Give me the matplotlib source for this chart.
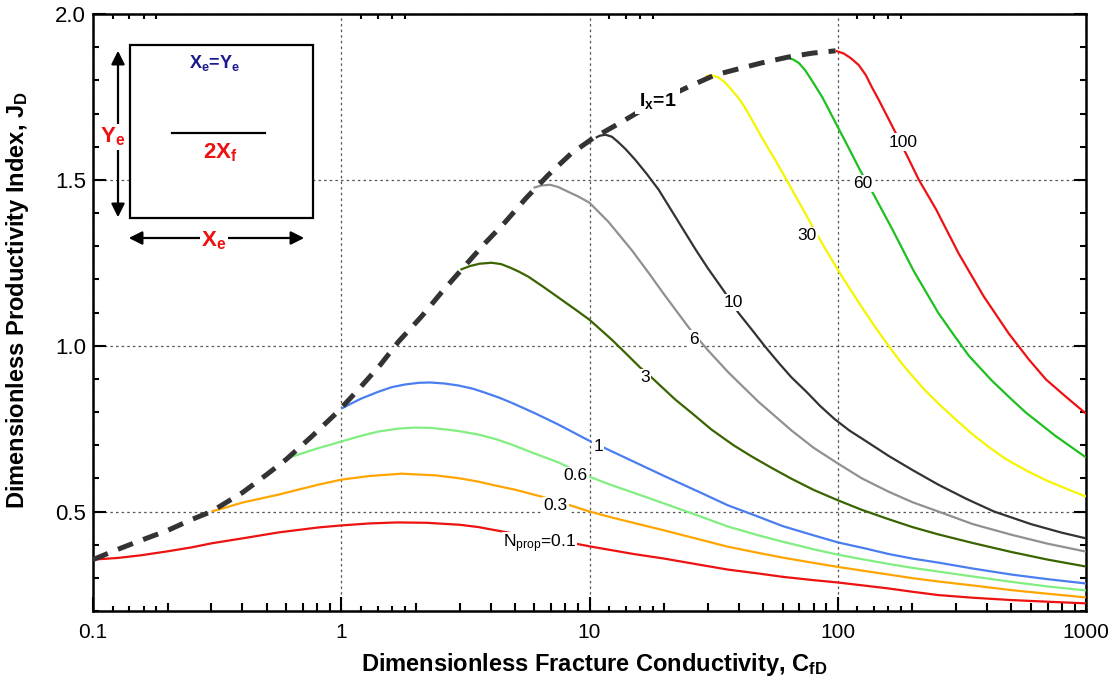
import matplotlib
matplotlib.use('Agg')
import matplotlib.pyplot as plt
from matplotlib.patches import FancyArrowPatch, Rectangle
from matplotlib.lines import Line2D

plt.rcParams['font.family'] = ['Liberation Sans', 'DejaVu Sans']
plt.rcParams['mathtext.fontset'] = 'custom'
plt.rcParams['mathtext.rm'] = 'Liberation Sans'
plt.rcParams['mathtext.bf'] = 'Liberation Sans:bold'
plt.rcParams['mathtext.sf'] = 'Liberation Sans:bold'
plt.rcParams['mathtext.it'] = 'Liberation Sans:italic'

# ---------------- data ----------------
xtick_values = [0.1, 1, 10, 100, 1000]
xtick_labels = ['0.1', '1', '10', '100', '1000']
ytick_values = [0.5, 1.0, 1.5, 2.0]
ytick_labels = ['0.5', '1.0', '1.5', '2.0']

envelope_cfd = [0.1, 0.126, 0.156, 0.2, 0.25, 0.3, 0.4, 0.5, 0.6, 0.76, 0.96, 1.17, 1.44,
                1.7, 2.1, 2.53, 3.05, 3.74, 4.58, 5.57, 6.83, 8.4, 10.4, 13.3, 18, 26,
                32, 40, 49, 63, 79, 98]
envelope_jd = [0.355, 0.386, 0.413, 0.443, 0.476, 0.500, 0.557, 0.611, 0.657, 0.726, 0.798,
               0.867, 0.943, 1.012, 1.087, 1.160, 1.229, 1.304, 1.373, 1.446, 1.515, 1.578,
               1.627, 1.672, 1.730, 1.786, 1.816, 1.835, 1.852, 1.870, 1.882, 1.889]

cfd_n0_1 = [0.1, 0.126, 0.156, 0.2, 0.25, 0.3, 0.4, 0.56, 0.81, 1.0, 1.3, 1.67, 2.2, 3.0,
            3.57, 4.58, 6.3, 8.8, 10, 15, 20, 28, 36, 48, 60, 80, 100, 130, 160, 200, 254,
            350, 500, 700, 1000]
jd_n0_1 = [0.355, 0.360, 0.368, 0.380, 0.392, 0.404, 0.419, 0.437, 0.452, 0.458, 0.464,
           0.467, 0.466, 0.460, 0.453, 0.438, 0.420, 0.403, 0.395, 0.372, 0.358, 0.339,
           0.325, 0.313, 0.303, 0.293, 0.286, 0.276, 0.268, 0.258, 0.248, 0.240, 0.233,
           0.228, 0.223]

cfd_n0_3 = [0.3, 0.35, 0.4, 0.48, 0.56, 0.68, 0.81, 1.0, 1.3, 1.75, 2.4, 3.0, 3.57, 4.2,
            5.0, 6.4, 8.1, 10, 12, 15, 20, 28, 36, 48, 60, 80, 100, 130, 160, 200, 254,
            350, 500, 700, 1000]
jd_n0_3 = [0.500, 0.514, 0.527, 0.540, 0.551, 0.567, 0.581, 0.596, 0.607, 0.614, 0.609,
           0.600, 0.590, 0.578, 0.566, 0.545, 0.522, 0.500, 0.484, 0.466, 0.443, 0.415,
           0.394, 0.375, 0.361, 0.345, 0.333, 0.320, 0.310, 0.299, 0.289, 0.277, 0.263,
           0.252, 0.241]

cfd_n0_6 = [0.62, 0.7, 0.8, 0.9, 1.0, 1.2, 1.41, 1.7, 1.99, 2.3, 2.6, 3.0, 3.57, 4.2,
            4.85, 6.0, 7.5, 8.7, 10, 12, 15, 20, 28, 36, 48, 60, 80, 100, 130, 160, 200,
            254, 350, 500, 700, 1000]
jd_n0_6 = [0.663, 0.676, 0.690, 0.701, 0.711, 0.728, 0.741, 0.750, 0.753, 0.752, 0.748,
           0.742, 0.732, 0.718, 0.702, 0.675, 0.648, 0.625, 0.605, 0.582, 0.557, 0.524,
           0.485, 0.455, 0.428, 0.409, 0.386, 0.370, 0.354, 0.342, 0.330, 0.319, 0.304,
           0.288, 0.274, 0.262]

cfd_n1 = [1.0, 1.1, 1.2, 1.41, 1.6, 1.81, 2.05, 2.28, 2.6, 2.96, 3.4, 3.8, 4.3, 4.85, 6.0,
          7.5, 10, 15, 20, 28, 36, 48, 60, 80, 100, 130, 160, 200, 254, 350, 500, 700, 1000]
jd_n1 = [0.810, 0.826, 0.840, 0.861, 0.875, 0.883, 0.888, 0.889, 0.886, 0.880, 0.870,
         0.858, 0.844, 0.828, 0.797, 0.762, 0.713, 0.651, 0.607, 0.557, 0.519, 0.484,
         0.456, 0.428, 0.407, 0.388, 0.372, 0.358, 0.346, 0.328, 0.310, 0.296, 0.283]

cfd_n3 = [3.02, 3.3, 3.6, 4.03, 4.4, 4.8, 5.2, 5.67, 6.5, 7.7, 9.0, 10, 12.3, 14, 16, 17.8,
          19, 22.2, 26, 31, 38, 45, 54, 65, 80, 100, 125, 160, 200, 254, 350, 500, 700,
          1000]
jd_n3 = [1.229, 1.240, 1.247, 1.250, 1.246, 1.235, 1.223, 1.208, 1.178, 1.139, 1.103,
         1.078, 1.018, 0.977, 0.934, 0.904, 0.884, 0.837, 0.795, 0.747, 0.700, 0.666,
         0.632, 0.599, 0.565, 0.534, 0.505, 0.477, 0.453, 0.431, 0.405, 0.378, 0.355,
         0.334]

cfd_n6 = [5.95, 6.4, 6.95, 7.5, 8.2, 9.0, 10, 11.93, 14.76, 17.29, 19.87, 22.84, 25.5,
          30.1, 36.3, 47.9, 65.2, 80, 100, 125, 160, 200, 254, 350, 500, 700, 1000]
jd_n6 = [1.476, 1.483, 1.485, 1.478, 1.464, 1.450, 1.431, 1.373, 1.289, 1.220, 1.157,
         1.096, 1.048, 0.985, 0.919, 0.831, 0.744, 0.692, 0.645, 0.600, 0.560, 0.528,
         0.500, 0.462, 0.430, 0.403, 0.379]

cfd_n10 = [10.6, 11.0, 11.6, 12.3, 13, 14, 15.3, 17, 19, 22.5, 26.8, 30, 34.7, 39.8, 45,
           51, 57.7, 65, 75, 85, 97, 111, 130, 160, 200, 254, 330, 426, 600, 800, 1000]
jd_n10 = [1.627, 1.633, 1.636, 1.630, 1.615, 1.592, 1.560, 1.518, 1.470, 1.381, 1.289,
          1.233, 1.166, 1.099, 1.049, 0.997, 0.949, 0.905, 0.860, 0.818, 0.779, 0.745,
          0.712, 0.668, 0.625, 0.581, 0.538, 0.500, 0.462, 0.436, 0.419]

cfd_n30 = [29.3, 31, 33, 35, 37, 40, 42.5, 46, 49, 52, 56, 62.3, 70, 78.6, 88, 98, 110,
           125, 140, 160, 180, 200, 225, 254, 300, 350, 410, 476, 580, 700, 850, 1000]
jd_n30 = [1.812, 1.815, 1.809, 1.795, 1.775, 1.745, 1.715, 1.670, 1.633, 1.600, 1.560,
          1.499, 1.431, 1.363, 1.299, 1.240, 1.180, 1.116, 1.061, 1.000, 0.949, 0.908,
          0.865, 0.826, 0.776, 0.732, 0.692, 0.658, 0.622, 0.592, 0.566, 0.545]

cfd_n60 = [59.3, 63, 66.5, 69.8, 74, 78.6, 86.5, 92, 98, 110, 123, 139.7, 165.6, 202, 254,
           293.5, 337, 417, 490, 573, 750, 1000]
jd_n60 = [1.870, 1.868, 1.862, 1.852, 1.830, 1.800, 1.750, 1.712, 1.672, 1.600, 1.529,
          1.455, 1.352, 1.226, 1.099, 1.032, 0.970, 0.895, 0.845, 0.798, 0.729, 0.663]

cfd_n100 = [98.2, 105.7, 112.8, 121.5, 129.7, 137.1, 146.3, 160.6, 176.1, 193.3, 212.2,
            248.5, 307.4, 387.7, 489.2, 589, 690, 830, 1000]
jd_n100 = [1.889, 1.881, 1.867, 1.846, 1.816, 1.780, 1.741, 1.682, 1.623, 1.562, 1.500,
           1.412, 1.277, 1.148, 1.036, 0.958, 0.898, 0.846, 0.795]

curve_labels = ['N$_\\mathrm{prop}$=0.1', '0.3', '0.6', '1', '3', '6', '10', '30', '60', '100']

# ---------------- figure ----------------
W, H = 1112, 688
fig = plt.figure(figsize=(W / 100, H / 100), dpi=100)
ax = fig.add_axes([93 / W, 1 - 611 / H, (1086 - 93) / W, (611 - 14) / H])


def P(px, py):
    return (px / W, 1 - py / H)


curves = [
    (cfd_n0_1, jd_n0_1, '#ee1111', (6.3, 0.402)),
    (cfd_n0_3, jd_n0_3, '#ffa500', (7.3, 0.518)),
    (cfd_n0_6, jd_n0_6, '#80ee80', (8.8, 0.608)),
    (cfd_n1, jd_n1, '#4a7ef0', (10.84, 0.696)),
    (cfd_n3, jd_n3, '#3a6400', (16.8, 0.904)),
    (cfd_n6, jd_n6, '#909090', (26.4, 1.020)),
    (cfd_n10, jd_n10, '#333333', (38.0, 1.130)),
    (cfd_n30, jd_n30, '#f5f500', (75.5, 1.331)),
    (cfd_n60, jd_n60, '#1ec01e', (126, 1.490)),
    (cfd_n100, jd_n100, '#ee1111', (183, 1.614)),
]

for (cx, cy, col, lp), lab in zip(curves, curve_labels):
    ax.plot(cx, cy, color=col, lw=1.6, zorder=3, solid_capstyle='butt',
            solid_joinstyle='round')
    ax.text(lp[0], lp[1], lab, fontsize=12.5, ha='center', va='center', zorder=4,
            bbox=dict(fc='white', ec='none', pad=0.8))

ax.plot(envelope_cfd, envelope_jd, color='#333333', lw=3.6, zorder=5,
        dashes=(3.2, 2.2), dash_capstyle='butt')
ax.text(18.8, 1.738, 'I$_\\mathbf{x}$=1', fontsize=14, fontweight='bold', ha='center',
        va='center', zorder=6, bbox=dict(fc='white', ec='none', pad=2.5))

ax.set_xscale('log')
ax.set_xlim(0.1, 1000)
ax.set_ylim(0.2, 2.0)

ax.set_xticks(xtick_values, xtick_labels, fontsize=15)
ax.set_yticks(ytick_values, ytick_labels, fontsize=16)
ax.set_xticks([k * 10.0 ** d for d in range(-1, 3) for k in range(2, 10)], minor=True)
ax.set_yticks([v / 10 for v in range(2, 20) if v % 5 != 0], minor=True)
ax.xaxis.set_minor_formatter(plt.NullFormatter())

ax.tick_params(which='both', direction='in', top=True, right=True, width=1.5, color='black')
ax.tick_params(axis='x', which='major', length=10, pad=9)
ax.tick_params(axis='y', which='major', length=9, pad=5)
ax.tick_params(axis='x', which='minor', length=6)
ax.tick_params(axis='y', which='minor', length=4)
for s in ax.spines.values():
    s.set_linewidth(1.8)

ax.grid(True, which='major', color='#555555', lw=0.9, linestyle=(0, (2, 2.5)), zorder=1)
ax.set_axisbelow(True)

# extra small log ticks
ax2 = ax.twiny()
ax2.set_xscale('log')
ax2.set_xlim(ax.get_xlim())
ax2.set_xticks([])
ax2.set_xticks([k * 10.0 ** d for d in range(-1, 3) for k in (1.2, 1.4, 1.6, 1.8)], minor=True)
ax2.xaxis.set_minor_formatter(plt.NullFormatter())
ax2.tick_params(which='minor', direction='in', top=True, bottom=True, length=3.5, width=1.5,
                labeltop=False, labelbottom=False)
for s in ax2.spines.values():
    s.set_visible(False)

# axis labels
fig.text(594 / W, 1 - 665 / H, 'Dimensionless Fracture Conductivity, C$_\\mathsf{fD}$',
         fontsize=17, fontweight='bold', ha='center', va='center')
fig.text(18 / W, 1 - 300 / H, 'Dimensionless Productivity Index, J$_\\mathsf{D}$',
         fontsize=17, fontweight='bold', ha='center', va='center', rotation=90)

# inset schematic
x0, y0 = P(130, 218)
x1, y1 = P(313, 45)
fig.add_artist(Rectangle((x0, y0), x1 - x0, y1 - y0, transform=fig.transFigure,
                         fc='white', ec='black', lw=1.6, zorder=6))
fig.add_artist(Line2D([172 / W, 265 / W], [1 - 133 / H, 1 - 133 / H],
                      transform=fig.transFigure, color='black', lw=1.6, zorder=7))
fig.text(*P(215, 63), 'X$_\\mathbf{e}$=Y$_\\mathbf{e}$', color='#1a1a8c', fontsize=13,
         fontweight='bold', ha='center', va='center', zorder=8)
fig.text(*P(220, 153), '2X$_\\mathbf{f}$', color='#ee1111', fontsize=16,
         fontweight='bold', ha='center', va='center', zorder=8)
fig.add_artist(FancyArrowPatch(P(118, 48), P(118, 220), transform=fig.transFigure,
                               arrowstyle='<|-|>', mutation_scale=20, lw=1.6,
                               color='black', zorder=6))
fig.add_artist(FancyArrowPatch(P(126, 238), P(307, 238), transform=fig.transFigure,
                               arrowstyle='<|-|>', mutation_scale=20, lw=1.6,
                               color='black', zorder=6))
fig.text(*P(113, 137), 'Y$_\\mathbf{e}$', color='#ee1111', fontsize=16, fontweight='bold',
         ha='center', va='center', zorder=8, bbox=dict(fc='white', ec='none', pad=1))
fig.text(*P(214, 241), 'X$_\\mathbf{e}$', color='#ee1111', fontsize=16, fontweight='bold',
         ha='center', va='center', zorder=8, bbox=dict(fc='white', ec='none', pad=1))

fig.savefig('out.png', dpi=100)
